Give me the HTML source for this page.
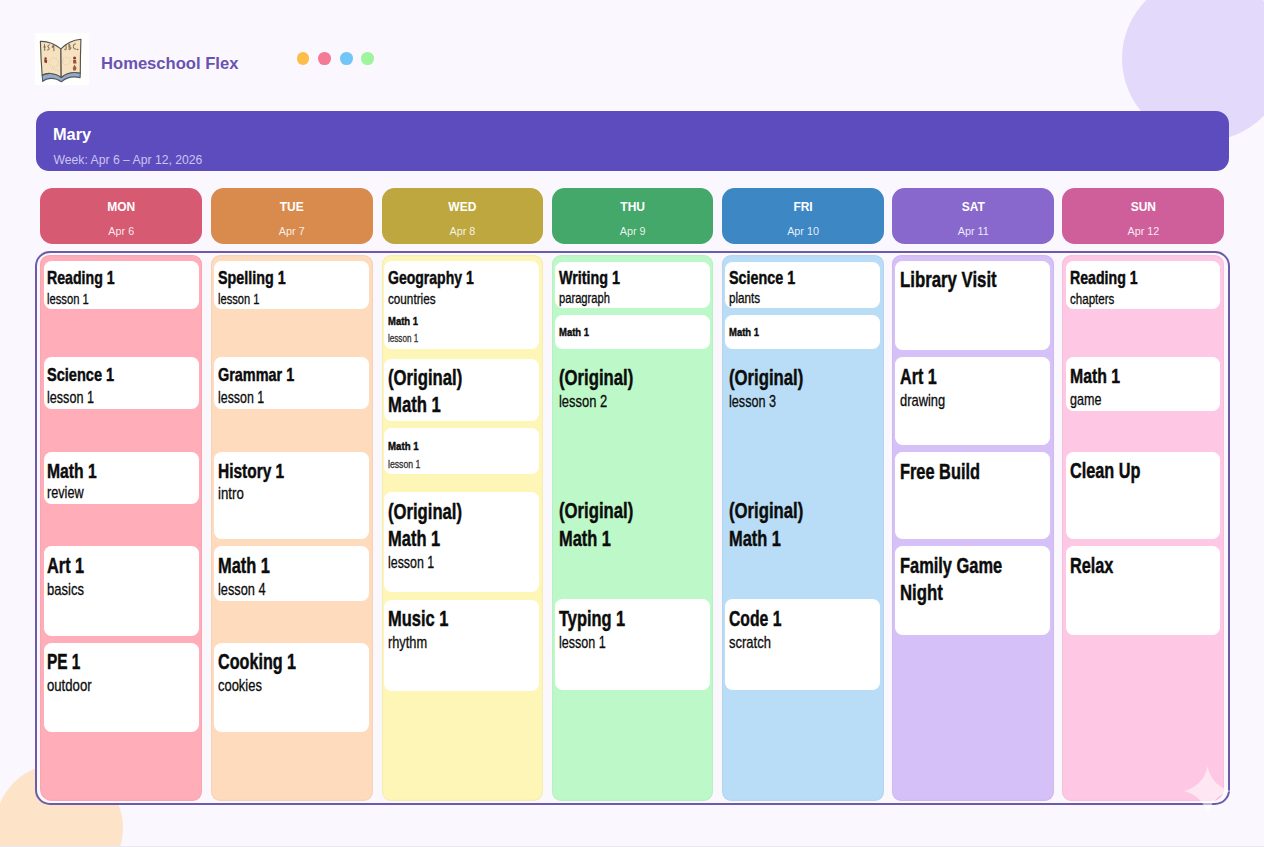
<!DOCTYPE html>
<html><head><meta charset="utf-8"><style>
html,body{margin:0;padding:0;}
body{width:1264px;height:847px;overflow:hidden;position:relative;background:#faf7fe;font-family:"Liberation Sans",sans-serif;}
.r{position:absolute;box-sizing:border-box;}
.t{position:absolute;white-space:nowrap;}
</style></head><body>
<div class="r" style="left:1121.5px;top:-24.5px;width:165px;height:165px;border-radius:50%;background:#e3dafb"></div>
<div class="r" style="left:-5.5px;top:764px;width:128px;height:128px;border-radius:50%;background:#fde3c7"></div>
<svg class="r" style="left:35px;top:33px" width="54" height="52" viewBox="0 0 54 52">
<rect x="0" y="0" width="54" height="52" fill="#fefefd"/>
<path d="M7.2 42.3 C11 39.5 20 39.5 26.2 44.5 C31 40 38 38.8 45.3 40 L45.1 44.6 C38 43 31 44.5 26.4 48.8 C20 44 12 44.5 7.7 48.4 Z" fill="#93abc6" stroke="#505866" stroke-width="1.1" stroke-linejoin="round"/>
<path d="M5.4 8.4 Q16 8 25.9 15.9 L26.2 44.5 C20 39.5 11 39.5 7.2 42.3 Q5.8 25 5.4 8.4 Z" fill="#f7e2c0" stroke="#565350" stroke-width="1.15" stroke-linejoin="round"/>
<path d="M25.9 15.9 Q34 7.5 45.9 6.3 Q45.3 23 45.3 40 C38 38.8 31 40 26.2 44.5 Z" fill="#f7e2c0" stroke="#565350" stroke-width="1.15" stroke-linejoin="round"/>
<g fill="none" stroke="#6e5f4c" stroke-width="0.9" stroke-linecap="round">
<path d="M9.5 11.5 L9.8 17.5 M8.8 14 L10.4 14"/>
<path d="M14.3 11.8 Q12.5 12 12.8 14 Q14.5 14.3 14.2 16 Q13.5 17.6 12.4 17"/>
<path d="M18.5 12.5 Q16.8 12.5 17 14.2 Q18.6 14.8 18.8 12.8 L18.9 17.8"/>
<path d="M31 11.5 L31.2 16.5 Q30.2 17.6 29.4 16.3"/>
<path d="M34 11 L34.2 16.8 Q36.5 16.5 35.8 14.2 Q35 13.5 34.2 13.8 Q36 12.8 34 11"/>
<path d="M40.5 10.8 Q38 10.5 38.3 13.8 Q38.5 16.8 41 16.2"/>
<circle cx="42.6" cy="16.6" r="0.3"/>
</g>
<g fill="none" stroke="#c9b291" stroke-width="0.6" stroke-dasharray="0.9 1.1">
<circle cx="18.8" cy="29.5" r="4.6"/>
<circle cx="31.3" cy="28" r="3.8"/>
<path d="M16 35 Q20 37 24 38"/>
</g>
<g fill="#8a3b2c">
<circle cx="10.6" cy="25.5" r="1.2"/><path d="M9.2 26.5 Q10.8 26 12.3 27.4 L11.8 30.2 L9.4 29.6 Z"/>
<circle cx="39.6" cy="25" r="1.5"/><path d="M38 27 L41 27 L41.6 30.5 L38.2 30.5 Z" fill-opacity="0.85"/>
<path d="M39.5 31.5 L41.6 35 L40.6 37.5 L38.2 37.5 L37.8 35 Z" fill-opacity="0.8"/>
</g>
</svg>

<div class="t" style="left:100.80px;top:54.96px;font-size:17.3px;line-height:17.3px;font-weight:700;color:#6a52b0;transform:scaleX(0.9606);transform-origin:0 0;">Homeschool Flex</div>
<div class="r" style="left:296.70px;top:52.00px;width:12.6px;height:12.6px;border-radius:50%;background:#fcbe48"></div>
<div class="r" style="left:318.30px;top:52.00px;width:12.6px;height:12.6px;border-radius:50%;background:#f47a96"></div>
<div class="r" style="left:340.00px;top:52.00px;width:12.6px;height:12.6px;border-radius:50%;background:#72c6f7"></div>
<div class="r" style="left:361.30px;top:52.00px;width:12.6px;height:12.6px;border-radius:50%;background:#9ef59c"></div>
<div class="r" style="left:36.00px;top:111.00px;width:1192.50px;height:60.00px;background:#5c4cbd;border-radius:13px;"></div>
<div class="t" style="left:52.80px;top:126.41px;font-size:17px;line-height:17px;font-weight:700;color:#ffffff;transform:scaleX(0.9600);transform-origin:0 0;">Mary</div>
<div class="t" style="left:53.50px;top:153.77px;font-size:12.2px;line-height:12.2px;font-weight:400;color:#cdc3f3;">Week: Apr 6 – Apr 12, 2026</div>
<div class="r" style="left:40.20px;top:187.80px;width:162.10px;height:56.40px;background:#d75a73;border-radius:12.5px;"></div>
<div class="t" style="left:107.25px;top:200.74px;font-size:12px;line-height:12px;font-weight:700;color:#ffffff;">MON</div>
<div class="t" style="left:108.34px;top:226.26px;font-size:10.8px;line-height:10.8px;font-weight:400;color:rgba(255,255,255,0.88);">Apr 6</div>
<div class="r" style="left:211.00px;top:187.80px;width:161.50px;height:56.40px;background:#d98b4e;border-radius:12.5px;"></div>
<div class="t" style="left:279.75px;top:200.74px;font-size:12px;line-height:12px;font-weight:700;color:#ffffff;">TUE</div>
<div class="t" style="left:278.84px;top:226.26px;font-size:10.8px;line-height:10.8px;font-weight:400;color:rgba(255,255,255,0.88);">Apr 7</div>
<div class="r" style="left:381.70px;top:187.80px;width:161.30px;height:56.40px;background:#bea73e;border-radius:12.5px;"></div>
<div class="t" style="left:448.35px;top:200.74px;font-size:12px;line-height:12px;font-weight:700;color:#ffffff;">WED</div>
<div class="t" style="left:449.44px;top:226.26px;font-size:10.8px;line-height:10.8px;font-weight:400;color:rgba(255,255,255,0.88);">Apr 8</div>
<div class="r" style="left:551.80px;top:187.80px;width:161.70px;height:56.40px;background:#43a86a;border-radius:12.5px;"></div>
<div class="t" style="left:620.32px;top:200.74px;font-size:12px;line-height:12px;font-weight:700;color:#ffffff;">THU</div>
<div class="t" style="left:619.74px;top:226.26px;font-size:10.8px;line-height:10.8px;font-weight:400;color:rgba(255,255,255,0.88);">Apr 9</div>
<div class="r" style="left:722.30px;top:187.80px;width:161.50px;height:56.40px;background:#3d87c5;border-radius:12.5px;"></div>
<div class="t" style="left:793.38px;top:200.74px;font-size:12px;line-height:12px;font-weight:700;color:#ffffff;">FRI</div>
<div class="t" style="left:787.14px;top:226.26px;font-size:10.8px;line-height:10.8px;font-weight:400;color:rgba(255,255,255,0.88);">Apr 10</div>
<div class="r" style="left:892.40px;top:187.80px;width:161.60px;height:56.40px;background:#8868cc;border-radius:12.5px;"></div>
<div class="t" style="left:961.65px;top:200.74px;font-size:12px;line-height:12px;font-weight:700;color:#ffffff;">SAT</div>
<div class="t" style="left:957.69px;top:226.26px;font-size:10.8px;line-height:10.8px;font-weight:400;color:rgba(255,255,255,0.88);">Apr 11</div>
<div class="r" style="left:1062.30px;top:187.80px;width:162.10px;height:56.40px;background:#cf5f9b;border-radius:12.5px;"></div>
<div class="t" style="left:1130.68px;top:200.74px;font-size:12px;line-height:12px;font-weight:700;color:#ffffff;">SUN</div>
<div class="t" style="left:1127.44px;top:226.26px;font-size:10.8px;line-height:10.8px;font-weight:400;color:rgba(255,255,255,0.88);">Apr 12</div>
<div class="r" style="left:35px;top:251px;width:1194.7px;height:554px;border:2.5px solid #6c5aab;border-radius:15px;background:#faf8fd"></div>
<div class="r" style="left:40.20px;top:254.80px;width:162.10px;height:546.50px;background:#ffadb8;border-radius:0px;border-radius:9px 9px 9px 12px;box-shadow:inset 0 0 0 1.2px rgba(60,0,40,0.035);"></div>
<div class="r" style="left:211.00px;top:254.80px;width:161.50px;height:546.50px;background:#fddbbc;border-radius:0px;border-radius:9px;box-shadow:inset 0 0 0 1.2px rgba(60,0,40,0.035);"></div>
<div class="r" style="left:381.70px;top:254.80px;width:161.30px;height:546.50px;background:#fdf6b6;border-radius:0px;border-radius:9px;box-shadow:inset 0 0 0 1.2px rgba(60,0,40,0.035);"></div>
<div class="r" style="left:551.80px;top:254.80px;width:161.70px;height:546.50px;background:#bdf9c8;border-radius:0px;border-radius:9px;box-shadow:inset 0 0 0 1.2px rgba(60,0,40,0.035);"></div>
<div class="r" style="left:722.30px;top:254.80px;width:161.50px;height:546.50px;background:#b9ddf7;border-radius:0px;border-radius:9px;box-shadow:inset 0 0 0 1.2px rgba(60,0,40,0.035);"></div>
<div class="r" style="left:892.40px;top:254.80px;width:161.60px;height:546.50px;background:#d5c0f7;border-radius:0px;border-radius:9px;box-shadow:inset 0 0 0 1.2px rgba(60,0,40,0.035);"></div>
<div class="r" style="left:1062.30px;top:254.80px;width:162.10px;height:546.50px;background:#fec8e4;border-radius:0px;border-radius:9px 9px 12px 9px;box-shadow:inset 0 0 0 1.2px rgba(60,0,40,0.035);"></div>
<div class="r" style="left:43.50px;top:261.00px;width:155.90px;height:47.80px;background:#ffffff;border-radius:7.5px;"></div>
<div class="r" style="left:43.50px;top:357.20px;width:155.90px;height:51.70px;background:#ffffff;border-radius:7.5px;"></div>
<div class="r" style="left:43.50px;top:451.80px;width:155.90px;height:52.50px;background:#ffffff;border-radius:7.5px;"></div>
<div class="r" style="left:43.50px;top:546.10px;width:155.90px;height:89.70px;background:#ffffff;border-radius:7.5px;"></div>
<div class="r" style="left:43.50px;top:642.50px;width:155.90px;height:89.30px;background:#ffffff;border-radius:7.5px;"></div>
<div class="r" style="left:214.10px;top:261.20px;width:155.30px;height:47.40px;background:#ffffff;border-radius:7.5px;"></div>
<div class="r" style="left:214.10px;top:357.10px;width:155.30px;height:51.80px;background:#ffffff;border-radius:7.5px;"></div>
<div class="r" style="left:214.10px;top:451.80px;width:155.30px;height:87.20px;background:#ffffff;border-radius:7.5px;"></div>
<div class="r" style="left:214.10px;top:546.20px;width:155.30px;height:54.60px;background:#ffffff;border-radius:7.5px;"></div>
<div class="r" style="left:214.10px;top:642.60px;width:155.30px;height:89.40px;background:#ffffff;border-radius:7.5px;"></div>
<div class="r" style="left:384.20px;top:261.30px;width:155.10px;height:87.40px;background:#ffffff;border-radius:7.5px;"></div>
<div class="r" style="left:384.20px;top:359.40px;width:155.10px;height:61.60px;background:#ffffff;border-radius:7.5px;"></div>
<div class="r" style="left:384.20px;top:428.40px;width:155.10px;height:46.10px;background:#ffffff;border-radius:7.5px;"></div>
<div class="r" style="left:384.20px;top:492.40px;width:155.10px;height:99.30px;background:#ffffff;border-radius:7.5px;"></div>
<div class="r" style="left:384.20px;top:599.50px;width:155.10px;height:91.10px;background:#ffffff;border-radius:7.5px;"></div>
<div class="r" style="left:554.50px;top:261.50px;width:155.50px;height:46.00px;background:#ffffff;border-radius:7.5px;"></div>
<div class="r" style="left:554.50px;top:315.30px;width:155.50px;height:33.30px;background:#ffffff;border-radius:7.5px;"></div>
<div class="r" style="left:554.50px;top:599.30px;width:155.50px;height:91.20px;background:#ffffff;border-radius:7.5px;"></div>
<div class="r" style="left:724.80px;top:261.50px;width:155.60px;height:46.30px;background:#ffffff;border-radius:7.5px;"></div>
<div class="r" style="left:724.80px;top:315.30px;width:155.60px;height:33.40px;background:#ffffff;border-radius:7.5px;"></div>
<div class="r" style="left:724.80px;top:599.30px;width:155.60px;height:90.50px;background:#ffffff;border-radius:7.5px;"></div>
<div class="r" style="left:895.20px;top:261.00px;width:155.00px;height:88.80px;background:#ffffff;border-radius:7.5px;"></div>
<div class="r" style="left:895.20px;top:357.20px;width:155.00px;height:87.80px;background:#ffffff;border-radius:7.5px;"></div>
<div class="r" style="left:895.20px;top:451.80px;width:155.00px;height:87.70px;background:#ffffff;border-radius:7.5px;"></div>
<div class="r" style="left:895.20px;top:546.20px;width:155.00px;height:89.20px;background:#ffffff;border-radius:7.5px;"></div>
<div class="r" style="left:1065.70px;top:261.30px;width:154.70px;height:47.30px;background:#ffffff;border-radius:7.5px;"></div>
<div class="r" style="left:1065.70px;top:357.10px;width:154.70px;height:53.70px;background:#ffffff;border-radius:7.5px;"></div>
<div class="r" style="left:1065.70px;top:451.80px;width:154.70px;height:87.70px;background:#ffffff;border-radius:7.5px;"></div>
<div class="r" style="left:1065.70px;top:546.20px;width:154.70px;height:89.20px;background:#ffffff;border-radius:7.5px;"></div>
<div class="t" style="left:46.80px;top:269.24px;font-size:18.5px;-webkit-text-stroke:0.45px #0c0c0c;line-height:18.5px;font-weight:700;color:#0c0c0c;transform:scaleX(0.7646);transform-origin:0 0;">Reading 1</div>
<div class="t" style="left:46.80px;top:291.85px;font-size:14px;-webkit-text-stroke:0.3px #0c0c0c;line-height:14px;font-weight:400;color:#0c0c0c;transform:scaleX(0.8016);transform-origin:0 0;">lesson 1</div>
<div class="t" style="left:46.80px;top:364.92px;font-size:19px;-webkit-text-stroke:0.45px #0c0c0c;line-height:19px;font-weight:700;color:#0c0c0c;transform:scaleX(0.7665);transform-origin:0 0;">Science 1</div>
<div class="t" style="left:46.80px;top:388.99px;font-size:16.2px;-webkit-text-stroke:0.3px #0c0c0c;line-height:16.2px;font-weight:400;color:#0c0c0c;transform:scaleX(0.7789);transform-origin:0 0;">lesson 1</div>
<div class="t" style="left:46.80px;top:460.67px;font-size:20px;-webkit-text-stroke:0.45px #0c0c0c;line-height:20px;font-weight:700;color:#0c0c0c;transform:scaleX(0.7831);transform-origin:0 0;">Math 1</div>
<div class="t" style="left:46.80px;top:483.99px;font-size:16.2px;-webkit-text-stroke:0.3px #0c0c0c;line-height:16.2px;font-weight:400;color:#0c0c0c;transform:scaleX(0.7818);transform-origin:0 0;">review</div>
<div class="t" style="left:46.80px;top:554.72px;font-size:22.3px;-webkit-text-stroke:0.45px #0c0c0c;line-height:22.3px;font-weight:700;color:#0c0c0c;transform:scaleX(0.7322);transform-origin:0 0;">Art 1</div>
<div class="t" style="left:46.80px;top:580.89px;font-size:16.2px;-webkit-text-stroke:0.3px #0c0c0c;line-height:16.2px;font-weight:400;color:#0c0c0c;transform:scaleX(0.8058);transform-origin:0 0;">basics</div>
<div class="t" style="left:46.80px;top:651.12px;font-size:22.3px;-webkit-text-stroke:0.45px #0c0c0c;line-height:22.3px;font-weight:700;color:#0c0c0c;transform:scaleX(0.6909);transform-origin:0 0;">PE 1</div>
<div class="t" style="left:46.80px;top:676.89px;font-size:16.2px;-webkit-text-stroke:0.3px #0c0c0c;line-height:16.2px;font-weight:400;color:#0c0c0c;transform:scaleX(0.8117);transform-origin:0 0;">outdoor</div>
<div class="t" style="left:218.00px;top:269.24px;font-size:18.5px;-webkit-text-stroke:0.45px #0c0c0c;line-height:18.5px;font-weight:700;color:#0c0c0c;transform:scaleX(0.7736);transform-origin:0 0;">Spelling 1</div>
<div class="t" style="left:218.00px;top:291.85px;font-size:14px;-webkit-text-stroke:0.3px #0c0c0c;line-height:14px;font-weight:400;color:#0c0c0c;transform:scaleX(0.7959);transform-origin:0 0;">lesson 1</div>
<div class="t" style="left:218.00px;top:364.92px;font-size:19px;-webkit-text-stroke:0.45px #0c0c0c;line-height:19px;font-weight:700;color:#0c0c0c;transform:scaleX(0.7595);transform-origin:0 0;">Grammar 1</div>
<div class="t" style="left:218.00px;top:388.99px;font-size:16.2px;-webkit-text-stroke:0.3px #0c0c0c;line-height:16.2px;font-weight:400;color:#0c0c0c;transform:scaleX(0.7657);transform-origin:0 0;">lesson 1</div>
<div class="t" style="left:218.00px;top:461.17px;font-size:20px;-webkit-text-stroke:0.45px #0c0c0c;line-height:20px;font-weight:700;color:#0c0c0c;transform:scaleX(0.7735);transform-origin:0 0;">History 1</div>
<div class="t" style="left:218.00px;top:485.39px;font-size:16.2px;-webkit-text-stroke:0.3px #0c0c0c;line-height:16.2px;font-weight:400;color:#0c0c0c;transform:scaleX(0.8187);transform-origin:0 0;">intro</div>
<div class="t" style="left:218.00px;top:554.72px;font-size:22.3px;-webkit-text-stroke:0.45px #0c0c0c;line-height:22.3px;font-weight:700;color:#0c0c0c;transform:scaleX(0.7363);transform-origin:0 0;">Math 1</div>
<div class="t" style="left:218.00px;top:580.89px;font-size:16.2px;-webkit-text-stroke:0.3px #0c0c0c;line-height:16.2px;font-weight:400;color:#0c0c0c;transform:scaleX(0.7905);transform-origin:0 0;">lesson 4</div>
<div class="t" style="left:218.00px;top:651.12px;font-size:22.3px;-webkit-text-stroke:0.45px #0c0c0c;line-height:22.3px;font-weight:700;color:#0c0c0c;transform:scaleX(0.7246);transform-origin:0 0;">Cooking 1</div>
<div class="t" style="left:218.00px;top:676.89px;font-size:16.2px;-webkit-text-stroke:0.3px #0c0c0c;line-height:16.2px;font-weight:400;color:#0c0c0c;transform:scaleX(0.7992);transform-origin:0 0;">cookies</div>
<div class="t" style="left:388.00px;top:269.04px;font-size:18.5px;-webkit-text-stroke:0.45px #0c0c0c;line-height:18.5px;font-weight:700;color:#0c0c0c;transform:scaleX(0.7578);transform-origin:0 0;">Geography 1</div>
<div class="t" style="left:388.00px;top:291.55px;font-size:14px;-webkit-text-stroke:0.3px #0c0c0c;line-height:14px;font-weight:400;color:#0c0c0c;transform:scaleX(0.8362);transform-origin:0 0;">countries</div>
<div class="t" style="left:388.00px;top:315.51px;font-size:11.8px;-webkit-text-stroke:0.45px #0c0c0c;line-height:11.8px;font-weight:700;color:#0c0c0c;transform:scaleX(0.8028);transform-origin:0 0;">Math 1</div>
<div class="t" style="left:388.00px;top:334.04px;font-size:10px;-webkit-text-stroke:0.3px #333;line-height:10px;font-weight:400;color:#333;transform:scaleX(0.8108);transform-origin:0 0;">lesson 1</div>
<div class="t" style="left:388.00px;top:366.92px;font-size:22.3px;-webkit-text-stroke:0.45px #0c0c0c;line-height:22.3px;font-weight:700;color:#0c0c0c;transform:scaleX(0.7497);transform-origin:0 0;">(Original)</div>
<div class="t" style="left:388.00px;top:394.12px;font-size:22.3px;-webkit-text-stroke:0.45px #0c0c0c;line-height:22.3px;font-weight:700;color:#0c0c0c;transform:scaleX(0.7476);transform-origin:0 0;">Math 1</div>
<div class="t" style="left:388.00px;top:440.81px;font-size:11.8px;-webkit-text-stroke:0.45px #0c0c0c;line-height:11.8px;font-weight:700;color:#0c0c0c;transform:scaleX(0.8188);transform-origin:0 0;">Math 1</div>
<div class="t" style="left:388.00px;top:459.74px;font-size:10px;-webkit-text-stroke:0.3px #333;line-height:10px;font-weight:400;color:#333;transform:scaleX(0.8699);transform-origin:0 0;">lesson 1</div>
<div class="t" style="left:388.00px;top:500.52px;font-size:22.3px;-webkit-text-stroke:0.45px #0c0c0c;line-height:22.3px;font-weight:700;color:#0c0c0c;transform:scaleX(0.7467);transform-origin:0 0;">(Original)</div>
<div class="t" style="left:388.00px;top:527.72px;font-size:22.3px;-webkit-text-stroke:0.45px #0c0c0c;line-height:22.3px;font-weight:700;color:#0c0c0c;transform:scaleX(0.7391);transform-origin:0 0;">Math 1</div>
<div class="t" style="left:388.00px;top:553.89px;font-size:16.2px;-webkit-text-stroke:0.3px #0c0c0c;line-height:16.2px;font-weight:400;color:#0c0c0c;transform:scaleX(0.7657);transform-origin:0 0;">lesson 1</div>
<div class="t" style="left:388.00px;top:607.62px;font-size:22.3px;-webkit-text-stroke:0.45px #0c0c0c;line-height:22.3px;font-weight:700;color:#0c0c0c;transform:scaleX(0.7396);transform-origin:0 0;">Music 1</div>
<div class="t" style="left:388.00px;top:633.89px;font-size:16.2px;-webkit-text-stroke:0.3px #0c0c0c;line-height:16.2px;font-weight:400;color:#0c0c0c;transform:scaleX(0.7897);transform-origin:0 0;">rhythm</div>
<div class="t" style="left:558.50px;top:269.04px;font-size:18.5px;-webkit-text-stroke:0.45px #0c0c0c;line-height:18.5px;font-weight:700;color:#0c0c0c;transform:scaleX(0.7741);transform-origin:0 0;">Writing 1</div>
<div class="t" style="left:558.50px;top:291.15px;font-size:14px;-webkit-text-stroke:0.3px #0c0c0c;line-height:14px;font-weight:400;color:#0c0c0c;transform:scaleX(0.7975);transform-origin:0 0;">paragraph</div>
<div class="t" style="left:558.50px;top:327.41px;font-size:11.8px;-webkit-text-stroke:0.45px #0c0c0c;line-height:11.8px;font-weight:700;color:#0c0c0c;transform:scaleX(0.8028);transform-origin:0 0;">Math 1</div>
<div class="t" style="left:558.50px;top:366.82px;font-size:22.3px;-webkit-text-stroke:0.45px #0c0c0c;line-height:22.3px;font-weight:700;color:#0c0c0c;transform:scaleX(0.7487);transform-origin:0 0;">(Original)</div>
<div class="t" style="left:558.50px;top:393.09px;font-size:16.2px;-webkit-text-stroke:0.3px #0c0c0c;line-height:16.2px;font-weight:400;color:#0c0c0c;transform:scaleX(0.7988);transform-origin:0 0;">lesson 2</div>
<div class="t" style="left:558.50px;top:500.42px;font-size:22.3px;-webkit-text-stroke:0.45px #0c0c0c;line-height:22.3px;font-weight:700;color:#0c0c0c;transform:scaleX(0.7487);transform-origin:0 0;">(Original)</div>
<div class="t" style="left:558.50px;top:527.52px;font-size:22.3px;-webkit-text-stroke:0.45px #0c0c0c;line-height:22.3px;font-weight:700;color:#0c0c0c;transform:scaleX(0.7363);transform-origin:0 0;">Math 1</div>
<div class="t" style="left:558.50px;top:607.62px;font-size:22.3px;-webkit-text-stroke:0.45px #0c0c0c;line-height:22.3px;font-weight:700;color:#0c0c0c;transform:scaleX(0.7353);transform-origin:0 0;">Typing 1</div>
<div class="t" style="left:558.50px;top:633.89px;font-size:16.2px;-webkit-text-stroke:0.3px #0c0c0c;line-height:16.2px;font-weight:400;color:#0c0c0c;transform:scaleX(0.7740);transform-origin:0 0;">lesson 1</div>
<div class="t" style="left:728.80px;top:269.04px;font-size:18.5px;-webkit-text-stroke:0.45px #0c0c0c;line-height:18.5px;font-weight:700;color:#0c0c0c;transform:scaleX(0.7743);transform-origin:0 0;">Science 1</div>
<div class="t" style="left:728.80px;top:291.15px;font-size:14px;-webkit-text-stroke:0.3px #0c0c0c;line-height:14px;font-weight:400;color:#0c0c0c;transform:scaleX(0.8351);transform-origin:0 0;">plants</div>
<div class="t" style="left:728.80px;top:327.41px;font-size:11.8px;-webkit-text-stroke:0.45px #0c0c0c;line-height:11.8px;font-weight:700;color:#0c0c0c;transform:scaleX(0.8028);transform-origin:0 0;">Math 1</div>
<div class="t" style="left:728.80px;top:366.82px;font-size:22.3px;-webkit-text-stroke:0.45px #0c0c0c;line-height:22.3px;font-weight:700;color:#0c0c0c;transform:scaleX(0.7497);transform-origin:0 0;">(Original)</div>
<div class="t" style="left:728.80px;top:393.09px;font-size:16.2px;-webkit-text-stroke:0.3px #0c0c0c;line-height:16.2px;font-weight:400;color:#0c0c0c;transform:scaleX(0.7822);transform-origin:0 0;">lesson 3</div>
<div class="t" style="left:728.80px;top:500.42px;font-size:22.3px;-webkit-text-stroke:0.45px #0c0c0c;line-height:22.3px;font-weight:700;color:#0c0c0c;transform:scaleX(0.7497);transform-origin:0 0;">(Original)</div>
<div class="t" style="left:728.80px;top:527.52px;font-size:22.3px;-webkit-text-stroke:0.45px #0c0c0c;line-height:22.3px;font-weight:700;color:#0c0c0c;transform:scaleX(0.7363);transform-origin:0 0;">Math 1</div>
<div class="t" style="left:728.80px;top:607.62px;font-size:22.3px;-webkit-text-stroke:0.45px #0c0c0c;line-height:22.3px;font-weight:700;color:#0c0c0c;transform:scaleX(0.7048);transform-origin:0 0;">Code 1</div>
<div class="t" style="left:728.80px;top:633.89px;font-size:16.2px;-webkit-text-stroke:0.3px #0c0c0c;line-height:16.2px;font-weight:400;color:#0c0c0c;transform:scaleX(0.8044);transform-origin:0 0;">scratch</div>
<div class="t" style="left:899.80px;top:269.02px;font-size:22.3px;-webkit-text-stroke:0.45px #0c0c0c;line-height:22.3px;font-weight:700;color:#0c0c0c;transform:scaleX(0.7526);transform-origin:0 0;">Library Visit</div>
<div class="t" style="left:899.80px;top:365.62px;font-size:22.3px;-webkit-text-stroke:0.45px #0c0c0c;line-height:22.3px;font-weight:700;color:#0c0c0c;transform:scaleX(0.7243);transform-origin:0 0;">Art 1</div>
<div class="t" style="left:899.80px;top:391.89px;font-size:16.2px;-webkit-text-stroke:0.3px #0c0c0c;line-height:16.2px;font-weight:400;color:#0c0c0c;transform:scaleX(0.7967);transform-origin:0 0;">drawing</div>
<div class="t" style="left:899.80px;top:460.62px;font-size:22.3px;-webkit-text-stroke:0.45px #0c0c0c;line-height:22.3px;font-weight:700;color:#0c0c0c;transform:scaleX(0.7337);transform-origin:0 0;">Free Build</div>
<div class="t" style="left:899.80px;top:554.72px;font-size:22.3px;-webkit-text-stroke:0.45px #0c0c0c;line-height:22.3px;font-weight:700;color:#0c0c0c;transform:scaleX(0.7362);transform-origin:0 0;">Family Game</div>
<div class="t" style="left:899.80px;top:581.72px;font-size:22.3px;-webkit-text-stroke:0.45px #0c0c0c;line-height:22.3px;font-weight:700;color:#0c0c0c;transform:scaleX(0.7530);transform-origin:0 0;">Night</div>
<div class="t" style="left:1069.90px;top:269.24px;font-size:18.5px;-webkit-text-stroke:0.45px #0c0c0c;line-height:18.5px;font-weight:700;color:#0c0c0c;transform:scaleX(0.7646);transform-origin:0 0;">Reading 1</div>
<div class="t" style="left:1069.90px;top:291.85px;font-size:14px;-webkit-text-stroke:0.3px #0c0c0c;line-height:14px;font-weight:400;color:#0c0c0c;transform:scaleX(0.8269);transform-origin:0 0;">chapters</div>
<div class="t" style="left:1069.90px;top:366.25px;font-size:20.5px;-webkit-text-stroke:0.45px #0c0c0c;line-height:20.5px;font-weight:700;color:#0c0c0c;transform:scaleX(0.7717);transform-origin:0 0;">Math 1</div>
<div class="t" style="left:1069.90px;top:390.89px;font-size:16.2px;-webkit-text-stroke:0.3px #0c0c0c;line-height:16.2px;font-weight:400;color:#0c0c0c;transform:scaleX(0.7773);transform-origin:0 0;">game</div>
<div class="t" style="left:1069.90px;top:460.12px;font-size:22.3px;-webkit-text-stroke:0.45px #0c0c0c;line-height:22.3px;font-weight:700;color:#0c0c0c;transform:scaleX(0.7294);transform-origin:0 0;">Clean Up</div>
<div class="t" style="left:1069.90px;top:554.72px;font-size:22.3px;-webkit-text-stroke:0.45px #0c0c0c;line-height:22.3px;font-weight:700;color:#0c0c0c;transform:scaleX(0.7293);transform-origin:0 0;">Relax</div>
<svg class="r" style="left:1183px;top:766px" width="49" height="50" viewBox="0 0 49 50"><path d="M24.5 0.5 Q29 20.5 48.5 25 Q29 29.5 24.5 49.5 Q20 29.5 0.5 25 Q20 20.5 24.5 0.5Z" fill="rgba(255,255,255,0.55)"/></svg>
<div class="r" style="left:0;top:846px;width:1264px;height:1px;background:#ebe8ee"></div>
</body></html>
